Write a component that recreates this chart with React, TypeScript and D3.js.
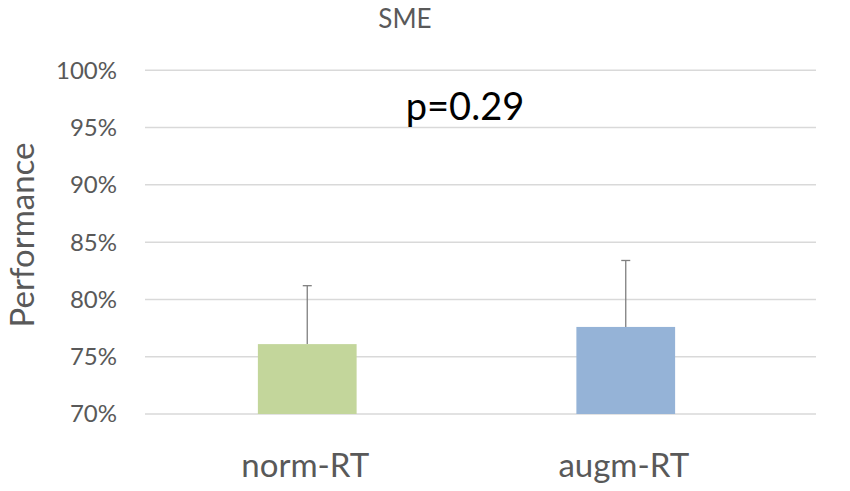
import React from "react";
import * as d3 from "d3";

const categories = ["norm-RT", "augm-RT"];
const means = [0.761, 0.776];
const errors = [0.051, 0.058];
const barColors = ["#c3d69b", "#95b3d7"];
const yTicks = [0.7, 0.75, 0.8, 0.85, 0.9, 0.95, 1.0];
const title = "SME";
const yLabel = "Performance";
const pLabel = "p=0.29";

const W = 850;
const H = 491;
const FONT = "Lato, 'Open Sans', sans-serif";

export default function App() {
  const y = d3.scaleLinear().domain([0.7, 1.0]).range([414, 70.3]);
  const x = d3
    .scaleBand<string>()
    .domain(categories)
    .range([148, 785])
    .paddingInner(0.69)
    .paddingOuter(0.345);
  const gridX0 = 145;
  const gridX1 = 816;
  const fmt = d3.format(".0%");
  return (
    <svg
      width={W}
      height={H}
      style={{ position: "absolute", left: 0, top: 0, background: "#fff" }}
      fontFamily={FONT}
    >
      <text x={405} y={28} textAnchor="middle" fontSize={26} fill="#595959">
        {title}
      </text>
      {yTicks.map((t) => (
        <g key={t}>
          <line
            x1={gridX0}
            x2={gridX1}
            y1={y(t)}
            y2={y(t)}
            stroke="#d9d9d9"
            strokeWidth={1.5}
          />
          <text
            x={117}
            y={y(t)}
            dy="0.35em"
            textAnchor="end"
            fontSize={24}
            fill="#595959"
          >
            {fmt(t)}
          </text>
        </g>
      ))}
      {categories.map((c, i) => {
        const bx = x(c)!;
        const bw = x.bandwidth();
        const cx = bx + bw / 2;
        const top = y(means[i] + errors[i]);
        return (
          <g key={c}>
            <rect
              x={bx}
              y={y(means[i])}
              width={bw}
              height={y(0.7) - y(means[i])}
              fill={barColors[i]}
            />
            <line x1={cx} x2={cx} y1={y(means[i])} y2={top} stroke="#7f7f7f" strokeWidth={1.3} />
            <line x1={cx - 4.5} x2={cx + 4.5} y1={top} y2={top} stroke="#7f7f7f" strokeWidth={1.3} />
            <text
              x={cx - 2}
              y={477}
              textAnchor="middle"
              fontSize={33}
              fill="#595959"
            >
              {c}
            </text>
          </g>
        );
      })}
      <text x={465} y={120} textAnchor="middle" fontSize={38} fill="#000">
        {pLabel}
      </text>
      <text
        transform={`translate(34, 235) rotate(-90)`}
        textAnchor="middle"
        fontSize={33}
        fill="#595959"
      >
        {yLabel}
      </text>
    </svg>
  );
}
